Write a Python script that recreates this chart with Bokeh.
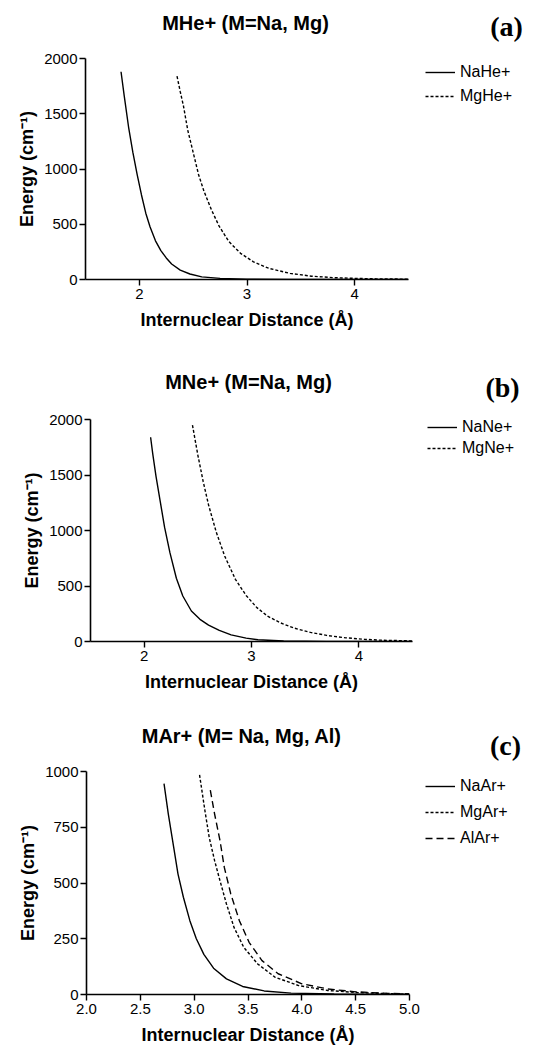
from bokeh.plotting import figure
from bokeh.models import Range1d, FixedTicker, Legend, LegendItem, Label, NumeralTickFormatter
from bokeh.layouts import column, row
from bokeh.embed import file_html
from bokeh.resources import INLINE

# ---------------- data ----------------
# Panel (a): MHe+
nahe_r = [1.83, 1.86, 1.90, 1.94, 1.98, 2.02, 2.06, 2.10, 2.15, 2.20, 2.25, 2.30, 2.38, 2.47, 2.58, 2.75, 3.00, 3.40, 4.00, 4.50]
nahe_e = [1880, 1660, 1380, 1150, 950, 765, 600, 475, 350, 262, 195, 140, 85, 50, 24, 10, 3, 1, 0, 0]
mghe_r = [2.35, 2.38, 2.41, 2.45, 2.50, 2.55, 2.60, 2.67, 2.74, 2.83, 2.94, 3.06, 3.20, 3.40, 3.60, 3.80, 4.00, 4.20, 4.50]
mghe_e = [1840, 1700, 1570, 1350, 1150, 950, 800, 630, 485, 345, 237, 160, 102, 55, 30, 17, 10, 6, 3]

# Panel (b): MNe+
nane_r = [2.06, 2.08, 2.11, 2.15, 2.19, 2.24, 2.30, 2.36, 2.44, 2.52, 2.60, 2.70, 2.81, 2.95, 3.06, 3.30, 3.70, 4.50]
nane_e = [1840, 1690, 1490, 1260, 1030, 800, 570, 410, 275, 200, 148, 100, 60, 30, 16, 5, 1, 0]
mgne_r = [2.45, 2.50, 2.55, 2.60, 2.67, 2.75, 2.85, 2.95, 3.05, 3.15, 3.27, 3.40, 3.55, 3.70, 3.88, 4.05, 4.20, 4.50]
mgne_e = [1950, 1680, 1440, 1230, 990, 770, 560, 415, 305, 228, 168, 120, 82, 55, 33, 20, 12, 5]

# Panel (c): MAr+
naar_r = [2.72, 2.76, 2.81, 2.85, 2.90, 2.96, 3.02, 3.09, 3.18, 3.30, 3.45, 3.65, 3.90, 4.30, 5.00]
naar_e = [946, 809, 660, 540, 436, 331, 250, 180, 118, 70, 36, 16, 6, 2, 0]
mgar_r = [3.05, 3.10, 3.14, 3.19, 3.24, 3.30, 3.37, 3.46, 3.59, 3.75, 3.97, 4.24, 4.50, 4.80, 5.00]
mgar_e = [985, 824, 704, 600, 510, 406, 301, 212, 137, 78, 40, 18, 9, 4, 2]
alar_r = [3.15, 3.19, 3.24, 3.28, 3.34, 3.42, 3.51, 3.63, 3.78, 4.00, 4.24, 4.50, 4.80, 5.00]
alar_e = [916, 809, 690, 570, 451, 331, 234, 152, 93, 48, 25, 12, 5, 3]

ticks_x_ab = [2, 3, 4]
ticks_y_ab = [0, 500, 1000, 1500, 2000]
ticks_x_c = [2.0, 2.5, 3.0, 3.5, 4.0, 4.5, 5.0]
ticks_y_c = [0, 250, 500, 750, 1000]

titles = ["MHe+ (M=Na, Mg)", "MNe+ (M=Na, Mg)", "MAr+  (M= Na, Mg, Al)"]
tags = ["(a)", "(b)", "(c)"]
x_label = "Internuclear Distance (Å)"
y_label = "Energy (cm⁻¹)"

SANS = "Liberation Sans"
SERIF = "Liberation Serif"
PAGE_W = 535
NAN = float("nan")


def blank(width, height):
    f = figure(width=width, height=height, output_backend="svg", toolbar_location=None,
               x_range=Range1d(0, 1), y_range=Range1d(0, 1),
               x_axis_location=None, y_axis_location=None,
               min_border_left=0, min_border_right=0, min_border_top=0, min_border_bottom=0)
    f.frame_align = False
    f.grid.visible = False
    f.outline_line_color = None
    f.background_fill_color = "white"
    f.border_fill_color = "white"
    return f


def make_panel(head_h, height, plot_w, left, right, top, bottom,
               xr, yr, xt, yt, series, title, tag, title_pos, tag_pos,
               leg_loc, leg_label_h, leg_spacing, xfmt=None):
    # header with the panel title and the panel tag
    head = blank(PAGE_W, head_h)
    head.add_layout(Label(x=title_pos[0], y=head_h - title_pos[1], x_units="screen", y_units="screen",
                          text=title, text_font=SANS, text_font_size="20px",
                          text_font_style="bold", text_align="center", text_baseline="middle",
                          text_color="black"))
    head.add_layout(Label(x=tag_pos[0], y=head_h - tag_pos[1], x_units="screen", y_units="screen",
                          text=tag, text_font=SERIF, text_font_size="28px",
                          text_font_style="bold", text_align="center", text_baseline="middle",
                          text_color="black"))

    ph = height - head_h
    p = figure(width=plot_w, height=ph, output_backend="svg", toolbar_location=None,
               x_range=Range1d(*xr), y_range=Range1d(*yr),
               min_border_left=left, min_border_right=right,
               min_border_top=top, min_border_bottom=bottom)
    p.frame_align = False
    p.grid.visible = False
    p.outline_line_color = None
    p.background_fill_color = "white"
    p.border_fill_color = "white"
    for ax in (p.xaxis[0], p.yaxis[0]):
        ax.axis_line_width = 1.6
        ax.axis_line_color = "black"
        ax.major_tick_line_color = "black"
        ax.major_tick_line_width = 1.4
        ax.major_tick_out = 6
        ax.major_tick_in = 0
        ax.minor_tick_line_color = None
        ax.major_label_text_font = SANS
        ax.major_label_text_font_size = "15px"
        ax.major_label_text_color = "black"
        ax.axis_label_text_font = SANS
        ax.axis_label_text_font_size = "18px"
        ax.axis_label_text_font_style = "bold"
        ax.axis_label_text_color = "black"
    p.xaxis[0].ticker = FixedTicker(ticks=xt)
    p.yaxis[0].ticker = FixedTicker(ticks=yt)
    p.xaxis[0].major_label_standoff = 3
    p.yaxis[0].major_label_standoff = 2
    p.xaxis[0].axis_label = x_label
    p.yaxis[0].axis_label = y_label
    p.xaxis[0].axis_label_standoff = 8
    p.yaxis[0].axis_label_standoff = 4
    if xfmt:
        p.xaxis[0].formatter = NumeralTickFormatter(format=xfmt)

    # side area holding the legend (legend keys use style-only proxy lines)
    side = blank(PAGE_W - plot_w, ph)
    items = []
    for (r, e, name, dash) in series:
        p.line(r, e, line_color="black", line_width=1.4, line_dash=dash)
        proxy = side.line([NAN], [NAN], line_color="black", line_width=1.4, line_dash=dash)
        items.append(LegendItem(label=name, renderers=[proxy]))
    leg = Legend(items=items, location=leg_loc, orientation="vertical",
                 label_text_font=SANS, label_text_font_size="16px", label_text_color="black",
                 glyph_width=30, glyph_height=leg_label_h, label_height=leg_label_h,
                 label_standoff=5, spacing=leg_spacing, padding=0, margin=0,
                 border_line_color=None, background_fill_alpha=0)
    side.add_layout(leg, "center")
    return column(head, row(p, side, spacing=0), spacing=0)


# panel (a): rows 0..340; x-axis 85..408, y-axis 58..279
pa = make_panel(44, 340, 422, 85, 14, 14, 61, (1.5, 4.5), (0, 2000), ticks_x_ab, ticks_y_ab,
                [(nahe_r, nahe_e, "NaHe+", "solid"), (mghe_r, mghe_e, "MgHe+", "3 2")],
                titles[0], tags[0], (245, 22), (506, 26), (3, 234), 20, 4)
# panel (b): rows 340..700; x-axis 90..412, y-axis 419..641
pb = make_panel(66, 360, 426, 90, 14, 13, 59, (1.5, 4.5), (0, 2000), ticks_x_ab, ticks_y_ab,
                [(nane_r, nane_e, "NaNe+", "solid"), (mgne_r, mgne_e, "MgNe+", "3 2")],
                titles[1], tags[1], (248, 41), (502, 47), (1, 243), 16, 3)
# panel (c): rows 700..1047; x-axis 86..409, y-axis 771..994
pc = make_panel(62, 347, 423, 86, 14, 9, 53, (2.0, 5.0), (0, 1000), ticks_x_c, ticks_y_c,
                [(naar_r, naar_e, "NaAr+", "solid"), (mgar_r, mgar_e, "MgAr+", "3 2"),
                 (alar_r, alar_e, "AlAr+", "7 4")],
                titles[2], tags[2], (244, 35), (505, 45), (2, 199), 20, 6, xfmt="0.0")

layout = column(pa, pb, pc, spacing=0)
open("out.html", "w").write(file_html(layout, INLINE))
